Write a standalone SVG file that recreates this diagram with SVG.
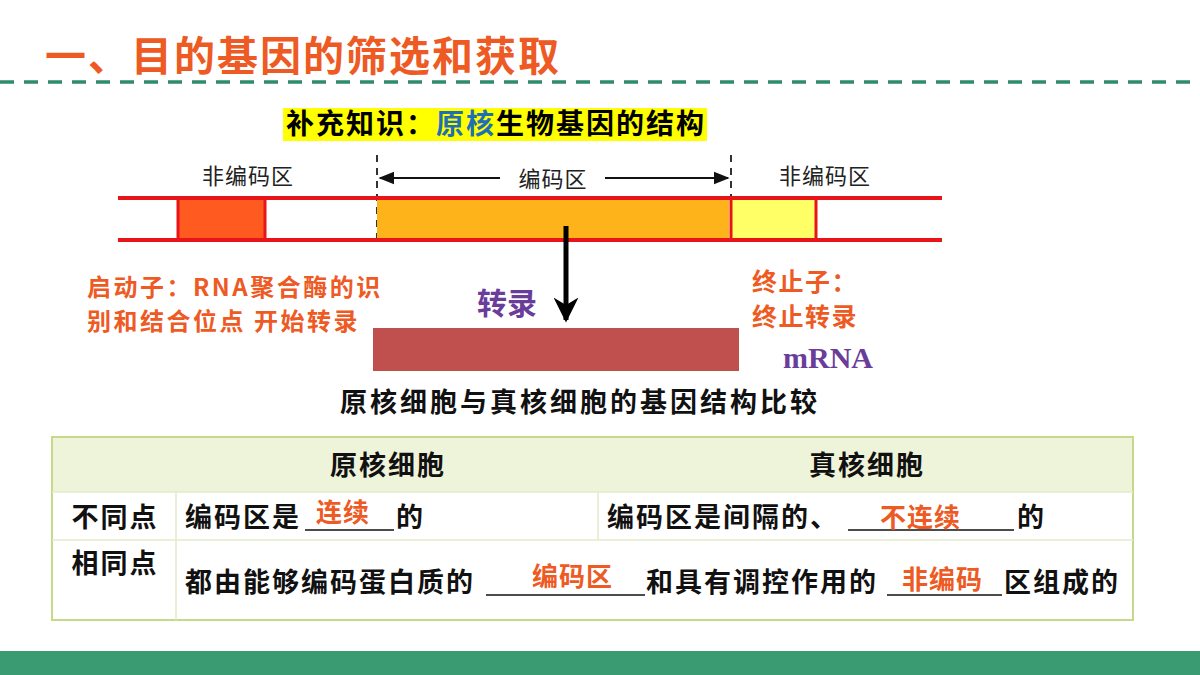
<svg xmlns="http://www.w3.org/2000/svg" width="1200" height="675" viewBox="0 0 1200 675">
<style>
text{font-family:"Noto Sans CJK SC","Noto Sans",sans-serif;}
.b{font-weight:bold;}
.o{fill:#ee5a24;font-weight:bold;}
.lab{font-size:22px;fill:#222;letter-spacing:1px;}
.cell{font-size:27px;font-weight:bold;fill:#111;letter-spacing:2px;}
.co{fill:#ee5a24;font-weight:bold;font-size:26px;letter-spacing:1px;}
.ul{stroke:#111;stroke-width:1.5;}
</style>
<defs>
<marker id="ah" viewBox="0 0 10 10" refX="9" refY="5" markerWidth="8" markerHeight="8" orient="auto-start-reverse"><path d="M0,1 L10,5 L0,9 z" fill="#111"/></marker>
<marker id="big" viewBox="0 0 10 10" refX="9" refY="5" markerWidth="5" markerHeight="5" orient="auto"><path d="M0,0 L10,5 L0,10 L3,5 z" fill="#000"/></marker>
</defs>
<rect width="1200" height="675" fill="#fff"/>
<text x="45" y="71" class="o" font-size="41" letter-spacing="2">一、目的基因的筛选和获取</text>
<line x1="0" y1="82" x2="1200" y2="82" stroke="#2e8b6e" stroke-width="3.5" stroke-dasharray="14,10"/>
<rect x="0" y="651" width="1200" height="24" fill="#3a9a72"/>

<rect x="283" y="108" width="424" height="33" fill="#ffff00"/>
<text x="286" y="134" class="b" font-size="28" letter-spacing="2" fill="#000">补充知识：<tspan fill="#1f6fb4">原核</tspan>生物基因的结构</text>

<g id="gene">
<text x="248" y="184" class="lab" text-anchor="middle">非编码区</text>
<text x="553" y="187" class="lab" text-anchor="middle">编码区</text>
<text x="825" y="184" class="lab" text-anchor="middle">非编码区</text>
<line x1="377" y1="155" x2="377" y2="245" stroke="#333" stroke-width="2" stroke-dasharray="7,6"/>
<line x1="731" y1="155" x2="731" y2="245" stroke="#333" stroke-width="2" stroke-dasharray="7,6"/>
<rect x="178" y="198" width="87" height="42" fill="#ff5a1f" stroke="#e8141a" stroke-width="3"/>
<rect x="377" y="198" width="352" height="42" fill="#ffb31a"/>
<rect x="731" y="198" width="85" height="42" fill="#ffff66" stroke="#e8141a" stroke-width="3"/>
<line x1="118" y1="198" x2="942" y2="198" stroke="#e8141a" stroke-width="4"/>
<line x1="118" y1="240" x2="942" y2="240" stroke="#e8141a" stroke-width="4"/>
</g>
<g id="connectors">
<line x1="500" y1="178" x2="380" y2="178" stroke="#111" stroke-width="2" marker-end="url(#ah)"/>
<line x1="605" y1="178" x2="728" y2="178" stroke="#111" stroke-width="2" marker-end="url(#ah)"/>
<line x1="566" y1="226" x2="566" y2="320" stroke="#000" stroke-width="5" marker-end="url(#big)"/>
</g>
<text x="87" y="296" class="o" font-size="24" letter-spacing="2.5">启动子：RNA聚合酶的识</text>
<text x="87" y="330" class="o" font-size="24" letter-spacing="2.5">别和结合位点 开始转录</text>
<text x="477" y="314" class="b" font-size="30" fill="#6a3d9a">转录</text>
<text x="752" y="291" class="o" font-size="25" letter-spacing="1.5">终止子：</text>
<text x="752" y="326" class="o" font-size="25" letter-spacing="1.5">终止转录</text>
<g id="mrna"><rect x="373" y="328" width="366" height="43" fill="#c0504d"/></g>
<text x="783" y="368" style="font-family:'Liberation Serif',serif" class="b" font-size="30" fill="#6a3d9a">mRNA</text>
<text x="580" y="412" class="b" font-size="27" letter-spacing="3" fill="#111" text-anchor="middle">原核细胞与真核细胞的基因结构比较</text>

<g id="table">
<rect x="52" y="437" width="1081" height="55" fill="#eef4d9"/>
<rect x="52" y="437" width="1081" height="183" fill="none" stroke="#c5d98a" stroke-width="2"/>
<line x1="52" y1="492" x2="1133" y2="492" stroke="#e3ebc8" stroke-width="1.5"/>
<line x1="52" y1="540" x2="1133" y2="540" stroke="#e3ebc8" stroke-width="1.5"/>
<line x1="176" y1="492" x2="176" y2="620" stroke="#e3ebc8" stroke-width="1.5"/>
<line x1="598" y1="492" x2="598" y2="540" stroke="#e3ebc8" stroke-width="1.5"/>
<text x="388" y="475" class="cell" text-anchor="middle">原核细胞</text>
<text x="867" y="475" class="cell" text-anchor="middle">真核细胞</text>
<text x="115" y="527" class="cell" text-anchor="middle">不同点</text>
<text x="115" y="573" class="cell" text-anchor="middle">相同点</text>
<text x="185" y="527" class="cell">编码区是</text>
<line x1="305" y1="530" x2="394" y2="530" class="ul"/>
<text x="316" y="522" class="co">连续</text>
<text x="396" y="527" class="cell">的</text>
<text x="607" y="527" class="cell">编码区是间隔的、</text>
<line x1="848" y1="530" x2="1014" y2="530" class="ul"/>
<text x="880" y="527" class="co">不连续</text>
<text x="1017" y="527" class="cell">的</text>
<text x="185" y="592" class="cell">都由能够编码蛋白质的</text>
<line x1="486" y1="595" x2="645" y2="595" class="ul"/>
<text x="532" y="586" class="co">编码区</text>
<text x="646" y="592" class="cell">和具有调控作用的</text>
<line x1="887" y1="595" x2="1002" y2="595" class="ul"/>
<text x="902" y="589" class="co">非编码</text>
<text x="1004" y="592" class="cell">区组成的</text>
</g>
</svg>
